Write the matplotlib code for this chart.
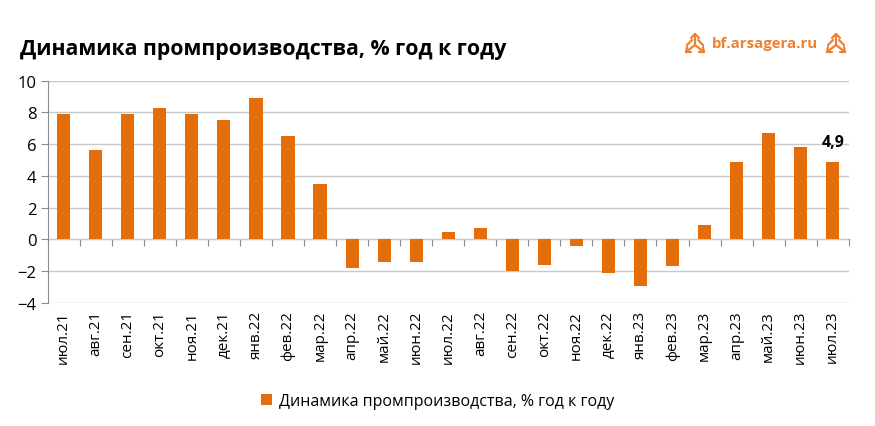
import numpy as np
import matplotlib
matplotlib.use("Agg")
import matplotlib.pyplot as plt
from matplotlib.lines import Line2D

plt.rcParams['font.family'] = ['Open Sans', 'DejaVu Sans']

# data
months = ["июл.21", "авг.21", "сен.21", "окт.21", "ноя.21", "дек.21",
          "янв.22", "фев.22", "мар.22", "апр.22", "май.22", "июн.22",
          "июл.22", "авг.22", "сен.22", "окт.22", "ноя.22", "дек.22",
          "янв.23", "фев.23", "мар.23", "апр.23", "май.23", "июн.23",
          "июл.23"]
values = [7.9, 5.6, 7.9, 8.3, 7.9, 7.5,
          8.9, 6.5, 3.5, -1.8, -1.4, -1.4,
          0.5, 0.7, -2.0, -1.6, -0.4, -2.1,
          -2.9, -1.7, 0.9, 4.9, 6.7, 5.8,
          4.9]
series_name = "Динамика промпроизводства, % год к году"
title = "Динамика промпроизводства, % год к году"

bar_color = "#E46C0A"
grid_color = "#C8C8C8"
axis_color = "#8C8C8C"
logo_color = "#EE8033"

W, H = 875, 427
fig = plt.figure(figsize=(W / 100, H / 100), dpi=100)
ax = fig.add_axes([0.0545, 0.288, 0.9155, 0.521])

x = np.arange(len(months))
ax.bar(x, values, width=0.41, color=bar_color, label=series_name, zorder=3)

ax.set_xlim(-0.5, len(months) - 0.5)
ax.set_ylim(-4, 10)
ax.set_yticks(np.arange(-4, 11, 2))
ax.yaxis.grid(True, color=grid_color, linewidth=1)
ax.set_axisbelow(True)

for s in ["top", "right", "bottom"]:
    ax.spines[s].set_visible(False)
ax.spines["left"].set_color(axis_color)
ax.tick_params(axis="y", length=5, color=axis_color, labelsize=12, pad=3)

ax.set_xticks(x)
ax.set_xticklabels(months, rotation=90, fontsize=11)
ax.tick_params(axis="x", length=0, pad=5)

# zero line with category boundary ticks
zero_pos = (0 - (-4)) / 14
sec = ax.secondary_xaxis(zero_pos)
sec.set_xticks(np.arange(len(months) + 1) - 0.5)
sec.set_xticklabels([])
sec.spines["bottom"].set_color(axis_color)
sec.tick_params(axis="x", length=5, color=axis_color, direction="out")

# last value label
ax.annotate("4,9", (x[-1], values[-1]), xytext=(0, 8), textcoords="offset points",
            ha="center", va="bottom", fontsize=11.5, fontweight="bold")

fig.text(0.023, 0.885, title, fontsize=15.3, fontweight="bold", ha="left", va="center")

# logo
fig.text(712 / W, 1 - 44 / H, "bf.arsagera.ru", fontsize=10.8, fontweight="bold",
         color=logo_color, ha="left", va="center")


def draw_icon(cx, cy, s=9):
    # small arrows emblem, drawn in pixel units
    def seg(x0, y0, x1, y1):
        fig.add_artist(Line2D([(cx + x0) / W, (cx + x1) / W],
                              [1 - (cy + y0) / H, 1 - (cy + y1) / H],
                              transform=fig.transFigure, color=logo_color,
                              linewidth=1.6, solid_capstyle="round"))
    # up arrow
    seg(0, 2, 0, -s)
    seg(-4, -s + 4, 0, -s)
    seg(4, -s + 4, 0, -s)
    # lower left / right arrows
    seg(0, 2, -s, s)
    seg(0, 2, s, s)
    seg(-s, s, -s + 5, s)
    seg(s, s, s - 5, s)
    seg(-s, s, -s + 1, s - 5)
    seg(s, s, s - 1, s - 5)
    # outer sides
    seg(-3, -3, -s + 1, s - 7)
    seg(3, -3, s - 1, s - 7)


draw_icon(695, 44)
draw_icon(836, 44)

fig.legend(loc="center", bbox_to_anchor=(0.5, 0.058), frameon=False, fontsize=11.5,
           handlelength=0.7, handleheight=0.7, handletextpad=0.4)

fig.savefig("out.png", dpi=100, facecolor="white")
